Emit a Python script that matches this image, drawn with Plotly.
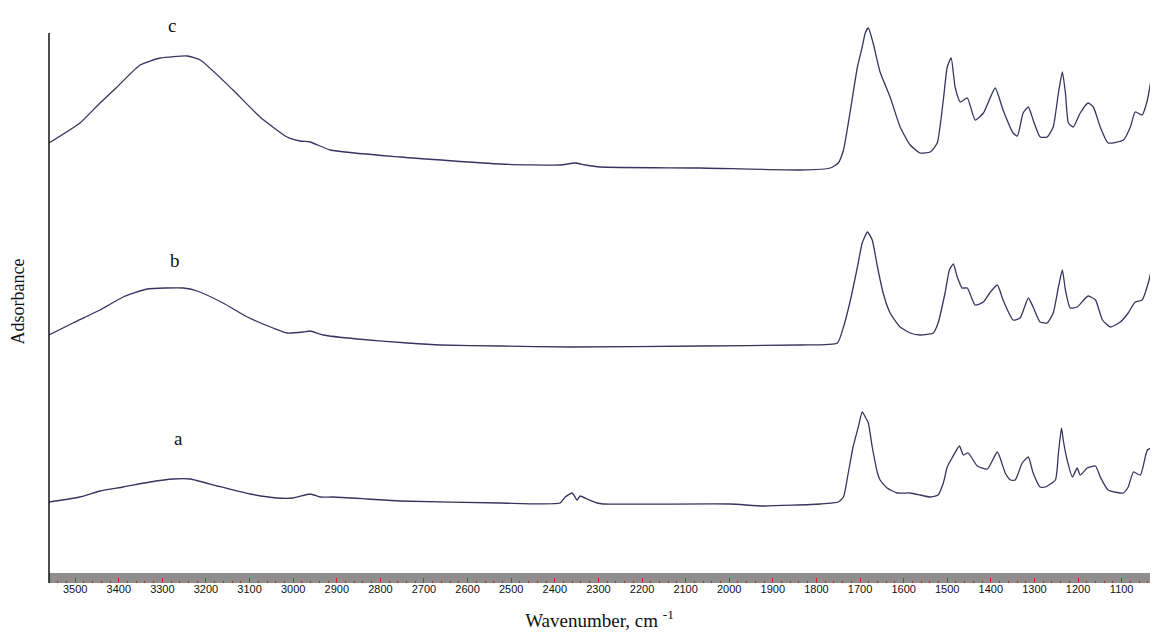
import plotly.graph_objects as go

# ---- data (wavenumber cm-1, absorbance in arbitrary offset units) ----
wn_c = [3560, 3489, 3443, 3404, 3351, 3305, 3243, 3213, 3138, 3076, 3014, 2984, 2961, 2915, 2755,
        2525, 2388, 2353, 2330, 2296, 2067, 1837, 1768, 1750, 1738, 1722, 1706, 1695, 1688, 1681,
        1670, 1654, 1631, 1608, 1585, 1562, 1539, 1523, 1509, 1500, 1491, 1482, 1470, 1454, 1436,
        1417, 1390, 1372, 1349, 1339, 1326, 1314, 1303, 1287, 1271, 1257, 1245, 1236, 1229, 1222,
        1211, 1195, 1177, 1165, 1149, 1131, 1096, 1080, 1069, 1053, 1041, 1030, 1018, 1016]
abs_c = [4.40, 4.60, 4.80, 4.96, 5.18, 5.25, 5.27, 5.23, 4.93, 4.66, 4.46, 4.42, 4.41, 4.33, 4.26,
         4.19, 4.18, 4.20, 4.18, 4.16, 4.15, 4.13, 4.15, 4.20, 4.33, 4.73, 5.16, 5.36, 5.50, 5.55,
         5.40, 5.11, 4.86, 4.56, 4.38, 4.30, 4.31, 4.40, 4.83, 5.16, 5.25, 4.96, 4.81, 4.85, 4.63,
         4.70, 4.95, 4.73, 4.50, 4.47, 4.70, 4.76, 4.63, 4.46, 4.46, 4.56, 4.90, 5.11, 4.90, 4.60,
         4.56, 4.70, 4.80, 4.76, 4.56, 4.40, 4.43, 4.56, 4.71, 4.68, 4.83, 5.10, 5.43, 5.58]

wn_b = [3560, 3505, 3443, 3390, 3335, 3252, 3220, 3161, 3105, 3046, 3014, 2977, 2961, 2931, 2853,
        2738, 2663, 2525, 2365, 2067, 1837, 1752, 1738, 1722, 1706, 1695, 1683, 1672, 1660, 1647,
        1631, 1608, 1585, 1562, 1532, 1521, 1505, 1495, 1486, 1477, 1466, 1454, 1436, 1417, 1401,
        1385, 1372, 1349, 1333, 1314, 1303, 1287, 1271, 1257, 1245, 1236, 1229, 1218, 1202, 1177,
        1160, 1144, 1126, 1103, 1085, 1069, 1053, 1039, 1027, 1018, 1016]
abs_b = [2.48, 2.60, 2.73, 2.86, 2.94, 2.95, 2.92, 2.80, 2.66, 2.55, 2.50, 2.51, 2.52, 2.48, 2.44,
         2.40, 2.38, 2.37, 2.36, 2.37, 2.38, 2.40, 2.56, 2.83, 3.16, 3.40, 3.51, 3.43, 3.16, 2.90,
         2.70, 2.56, 2.50, 2.48, 2.50, 2.60, 2.90, 3.13, 3.19, 3.06, 2.95, 2.95, 2.78, 2.81, 2.91,
         2.98, 2.83, 2.63, 2.65, 2.85, 2.76, 2.61, 2.60, 2.70, 2.96, 3.13, 2.93, 2.75, 2.76, 2.87,
         2.83, 2.63, 2.56, 2.61, 2.70, 2.81, 2.83, 3.00, 3.23, 3.43, 3.53]

wn_a = [3560, 3489, 3443, 3390, 3328, 3275, 3236, 3174, 3099, 3037, 3000, 2961, 2938, 2908, 2830,
        2755, 2525, 2388, 2376, 2360, 2349, 2342, 2326, 2303, 2289, 1998, 1922, 1791, 1750, 1738,
        1727, 1716, 1704, 1695, 1688, 1681, 1672, 1660, 1654, 1638, 1615, 1585, 1562, 1539, 1521,
        1509, 1500, 1489, 1472, 1463, 1452, 1431, 1408, 1385, 1367, 1355, 1344, 1328, 1314, 1303,
        1287, 1275, 1252, 1245, 1238, 1234, 1225, 1213, 1202, 1195, 1179, 1160, 1149, 1131, 1096,
        1085, 1073, 1057, 1041, 1027, 1018, 1016]
abs_a = [0.81, 0.86, 0.92, 0.96, 1.01, 1.04, 1.04, 0.97, 0.89, 0.85, 0.85, 0.89, 0.86, 0.86, 0.84,
         0.82, 0.80, 0.80, 0.86, 0.90, 0.83, 0.87, 0.84, 0.80, 0.79, 0.79, 0.77, 0.79, 0.81, 0.86,
         1.10, 1.36, 1.56, 1.71, 1.66, 1.60, 1.36, 1.10, 1.03, 0.95, 0.90, 0.90, 0.88, 0.86, 0.88,
         1.00, 1.16, 1.25, 1.37, 1.28, 1.30, 1.17, 1.14, 1.31, 1.10, 1.03, 1.03, 1.20, 1.26, 1.10,
         0.96, 0.96, 1.03, 1.30, 1.55, 1.43, 1.23, 1.06, 1.15, 1.08, 1.15, 1.17, 1.06, 0.93, 0.90,
         0.96, 1.11, 1.08, 1.33, 1.36, 1.41, 1.43]

labels = ["a", "b", "c"]
label_wn = [3264, 3271, 3277]
label_abs = [1.45, 3.23, 5.58]

tick_vals = list(range(3500, 1000, -100))
tick_text = [str(v) for v in tick_vals]

line_color = "#35355f"

fig = go.Figure()
for wn, ab, name in [(wn_a, abs_a, "a"), (wn_b, abs_b, "b"), (wn_c, abs_c, "c")]:
    fig.add_trace(go.Scatter(x=wn, y=ab, mode="lines", name=name,
                             line=dict(color=line_color, width=1.3, shape="spline", smoothing=0.5),
                             showlegend=False))

for t, xv, yv in zip(labels, label_wn, label_abs):
    fig.add_annotation(x=xv, y=yv, text=t, showarrow=False,
                       font=dict(family="Liberation Serif", size=19, color="#111111"))

# gray axis band at the bottom
fig.add_shape(type="rect", xref="paper", yref="y", x0=0, x1=1, y0=0, y1=0.10,
              fillcolor="#8e8e8e", line=dict(width=0), layer="below")
# left axis line (shorter than the plot area)
fig.add_shape(type="line", xref="paper", yref="y", x0=0, x1=0, y0=0, y1=5.50,
              line=dict(color="#111111", width=1.5))

# the page body adds an 8px margin; keep the figure inside the window to avoid overflow
fig.update_layout(
    width=1142, height=623,
    margin=dict(l=41, r=0, t=12, b=48),
    paper_bgcolor="white", plot_bgcolor="white",
    font=dict(family="Liberation Sans", color="#222222"),
    xaxis=dict(
        range=[3560, 1035], showgrid=False, zeroline=False, showline=False, automargin=False,
        tickmode="array", tickvals=tick_vals, ticktext=tick_text,
        ticks="inside", ticklen=5, tickwidth=1, tickcolor="#cc2222",
        minor=dict(dtick=20, ticks="inside", ticklen=2, tickcolor="#cc2222", tickwidth=1),
        tickfont=dict(family="Liberation Sans", size=11, color="#111111"),
        ticklabelstandoff=-2,
        title=dict(text="Wavenumber, cm <sup>-1</sup>",
                   font=dict(family="Liberation Serif", size=19, color="#111111"), standoff=20),
    ),
    yaxis=dict(
        range=[0, 5.63], showgrid=False, zeroline=False, showline=False, automargin=False,
        showticklabels=False, ticks="",
        title=dict(text="Adsorbance",
                   font=dict(family="Liberation Serif", size=18, color="#111111"), standoff=22),
    ),
)

fig.write_html("out.html")
